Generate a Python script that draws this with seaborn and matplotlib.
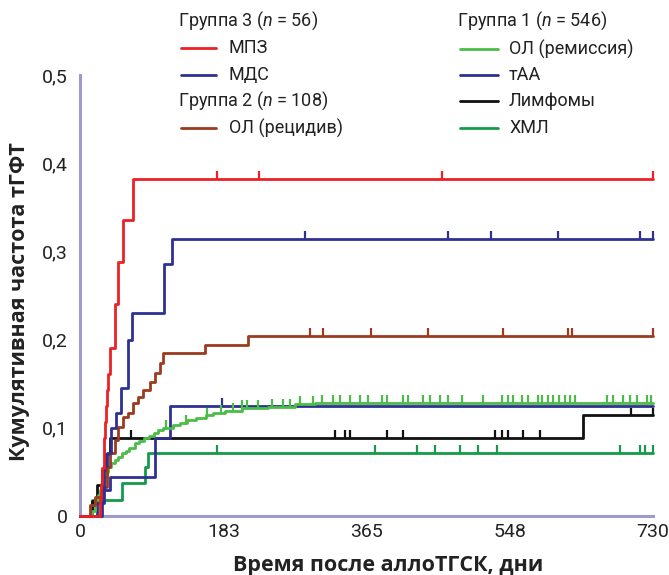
import numpy as np
import pandas as pd
import matplotlib
matplotlib.use("Agg")
import matplotlib.pyplot as plt
import seaborn as sns
from matplotlib.lines import Line2D
from matplotlib.ticker import FixedLocator, AutoMinorLocator, FuncFormatter

# ---------------- data ----------------
mpz_days = [0, 25, 27, 28, 30, 31, 32, 33, 35, 36, 38, 45, 48, 55, 68, 730]
mpz_vals = [0, 0.018, 0.036, 0.054, 0.071, 0.089, 0.107, 0.125, 0.143, 0.161, 0.19, 0.24, 0.288, 0.336, 0.382, 0.382]
mpz_cens = [175, 228, 461, 730]

mds_days = [0, 28, 31, 35, 40, 46, 52, 61, 66, 107, 117, 730]
mds_vals = [0, 0.029, 0.057, 0.071, 0.1, 0.117, 0.145, 0.2, 0.23, 0.286, 0.314, 0.314]
mds_cens = [287, 469, 523, 609, 713, 730]

olr_days = [0, 13, 19, 28, 34, 38, 45, 48, 55, 61, 67, 74, 80, 89, 96, 102, 106, 159, 214, 730]
olr_vals = [0, 0.012, 0.021, 0.033, 0.056, 0.071, 0.086, 0.101, 0.112, 0.117, 0.128, 0.135, 0.143,
            0.152, 0.162, 0.173, 0.185, 0.194, 0.204, 0.204]
olr_cens = [293, 310, 371, 443, 539, 622, 627, 730]

olrem_days = [0, 15, 19, 23, 26, 29, 31, 34, 36, 40, 44, 48, 53, 58, 63, 70, 75, 81, 88, 94, 100, 106,
              119, 127, 136, 148, 160, 170, 185, 206, 240, 274, 300, 730]
olrem_vals = [0, 0.006, 0.018, 0.024, 0.03, 0.037, 0.044, 0.05, 0.056, 0.06, 0.063, 0.067, 0.071, 0.074,
              0.077, 0.083, 0.085, 0.088, 0.091, 0.094, 0.097, 0.1, 0.103, 0.105, 0.109, 0.111, 0.114,
              0.117, 0.119, 0.122, 0.124, 0.127, 0.128, 0.128]
olrem_cens = [110, 135, 162, 180, 195, 206, 213, 227, 245, 259, 268, 280, 297, 308, 322, 331, 344, 357,
              367, 385, 391, 411, 418, 437, 446, 459, 469, 487, 513, 538, 545, 552, 563, 571, 583, 589,
              596, 602, 610, 618, 624, 631, 671, 679, 692, 701, 709, 722, 728]

taa_days = [0, 22, 30, 38, 96, 115, 730]
taa_vals = [0, 0.015, 0.03, 0.044, 0.088, 0.125, 0.125]
taa_cens = [181]

lym_days = [0, 15, 22, 28, 33, 38, 641, 730]
lym_vals = [0, 0.017, 0.035, 0.052, 0.07, 0.088, 0.114, 0.114]
lym_cens = [65, 325, 338, 344, 391, 412, 529, 537, 545, 564, 586, 702, 730]

cml_days = [0, 15, 53, 83, 86, 730]
cml_vals = [0, 0.018, 0.037, 0.056, 0.071, 0.071]
cml_cens = [174, 376, 429, 452, 484, 507, 531, 688, 713, 720, 730]

x_ticks = [0, 183, 365, 548, 730]
y_ticks = [0, 0.1, 0.2, 0.3, 0.4, 0.5]

# ---------------- styling ----------------
C_RED = "#ed2024"
C_BLUE = "#2e3192"
C_BROWN = "#9b3b1f"
C_LGREEN = "#4cbc48"
C_BLACK = "#111111"
C_DGREEN = "#149a4a"
C_AXIS = "#9d9bcb"
C_TEXT = "#222222"

sns.set_theme(style="white")
plt.rcParams["font.family"] = ["Roboto", "DejaVu Sans"]
plt.rcParams["mathtext.fontset"] = "custom"
plt.rcParams["mathtext.rm"] = "Roboto"
plt.rcParams["mathtext.it"] = "Roboto:italic"

fig = plt.figure(figsize=(6.69, 5.75), dpi=100)
ax = fig.add_axes([80 / 669, 1 - 516 / 575, (653 - 80) / 669, (516 - 75) / 575])

series = [
    ("ХМЛ", cml_days, cml_vals, cml_cens, C_DGREEN),
    ("Лимфомы", lym_days, lym_vals, lym_cens, C_BLACK),
    ("тАА", taa_days, taa_vals, taa_cens, C_BLUE),
    ("ОЛ (ремиссия)", olrem_days, olrem_vals, olrem_cens, C_LGREEN),
    ("ОЛ (рецидив)", olr_days, olr_vals, olr_cens, C_BROWN),
    ("МДС", mds_days, mds_vals, mds_cens, C_BLUE),
    ("МПЗ", mpz_days, mpz_vals, mpz_cens, C_RED),
]

for i, (name, d, v, cens, col) in enumerate(series):
    df = pd.DataFrame({"day": d, "val": v})
    sns.lineplot(data=df, x="day", y="val", ax=ax, color=col, lw=2.0,
                 drawstyle="steps-post", estimator=None, sort=False,
                 zorder=3 + i, clip_on=False)
    dd = np.asarray(d)
    vv = np.asarray(v)
    idx = np.searchsorted(dd, np.asarray(cens), side="right") - 1
    cv = vv[idx]
    ax.vlines(cens, cv, cv + 0.009, colors=col, lw=1.6, zorder=3 + i, clip_on=False)

ax.set_xlim(0, 730)
ax.set_ylim(0, 0.5)
ax.xaxis.set_major_locator(FixedLocator(x_ticks))
ax.xaxis.set_minor_locator(AutoMinorLocator(2))
ax.yaxis.set_major_locator(FixedLocator(y_ticks))
ax.yaxis.set_minor_locator(AutoMinorLocator(2))
ax.yaxis.set_major_formatter(FuncFormatter(lambda y, p: "0" if abs(y) < 1e-9 else f"{y:.1f}".replace(".", ",")))
ax.xaxis.set_major_formatter(FuncFormatter(lambda x, p: f"{int(round(x))}"))

for s in ["top", "right"]:
    ax.spines[s].set_visible(False)
for s in ["left", "bottom"]:
    ax.spines[s].set_color(C_AXIS)
    ax.spines[s].set_linewidth(2.2)
ax.tick_params(which="both", direction="in", color=C_AXIS, width=1.8, length=7)
ax.tick_params(axis="both", which="major", labelsize=14, labelcolor=C_TEXT)
ax.tick_params(axis="y", pad=9)
ax.tick_params(axis="x", pad=5)

LAB_FONT = dict(fontsize=15.5, fontweight="bold", color=C_TEXT, family=["Open Sans", "DejaVu Sans"])
ax.set_xlabel("Время после аллоТГСК, дни", **LAB_FONT)
ax.set_ylabel("Кумулятивная частота тГФТ", **LAB_FONT)
ax.xaxis.set_label_coords((388 - 80) / 573, -(566 - 516) / 441)
ax.yaxis.set_label_coords(-(80 - 20) / 573, (516 - 302) / 441)
ax.xaxis.label.set_va("center")
ax.yaxis.label.set_va("center")

# ---------------- legend (drawn in figure pixels) ----------------
W, H = 669, 575
def fx(px):
    return px / W
def fy(py):
    return 1 - py / H

LEG_FS = 13
left_block = [
    ("head", "Группа 3 ($n$ = 56)", None, 21),
    ("item", "МПЗ", C_RED, 48),
    ("item", "МДС", C_BLUE, 75),
    ("head", "Группа 2 ($n$ = 108)", None, 101),
    ("item", "ОЛ (рецидив)", C_BROWN, 128),
]
right_block = [
    ("head", "Группа 1 ($n$ = 546)", None, 21),
    ("item", "ОЛ (ремиссия)", C_LGREEN, 49),
    ("item", "тАА", C_BLUE, 75),
    ("item", "Лимфомы", C_BLACK, 101),
    ("item", "ХМЛ", C_DGREEN, 128),
]
for block, x0, x1, xt in [(left_block, 181, 216, 229), (right_block, 460, 498, 509)]:
    for kind, txt, col, py in block:
        if kind == "head":
            fig.text(fx(x0 - 3), fy(py), txt, fontsize=LEG_FS, va="center", ha="left", color=C_TEXT)
        else:
            fig.add_artist(Line2D([fx(x0), fx(x1)], [fy(py), fy(py)], color=col, lw=2.0))
            fig.text(fx(xt), fy(py), txt, fontsize=LEG_FS, va="center", ha="left", color=C_TEXT)

fig.savefig("out.png", dpi=100)
